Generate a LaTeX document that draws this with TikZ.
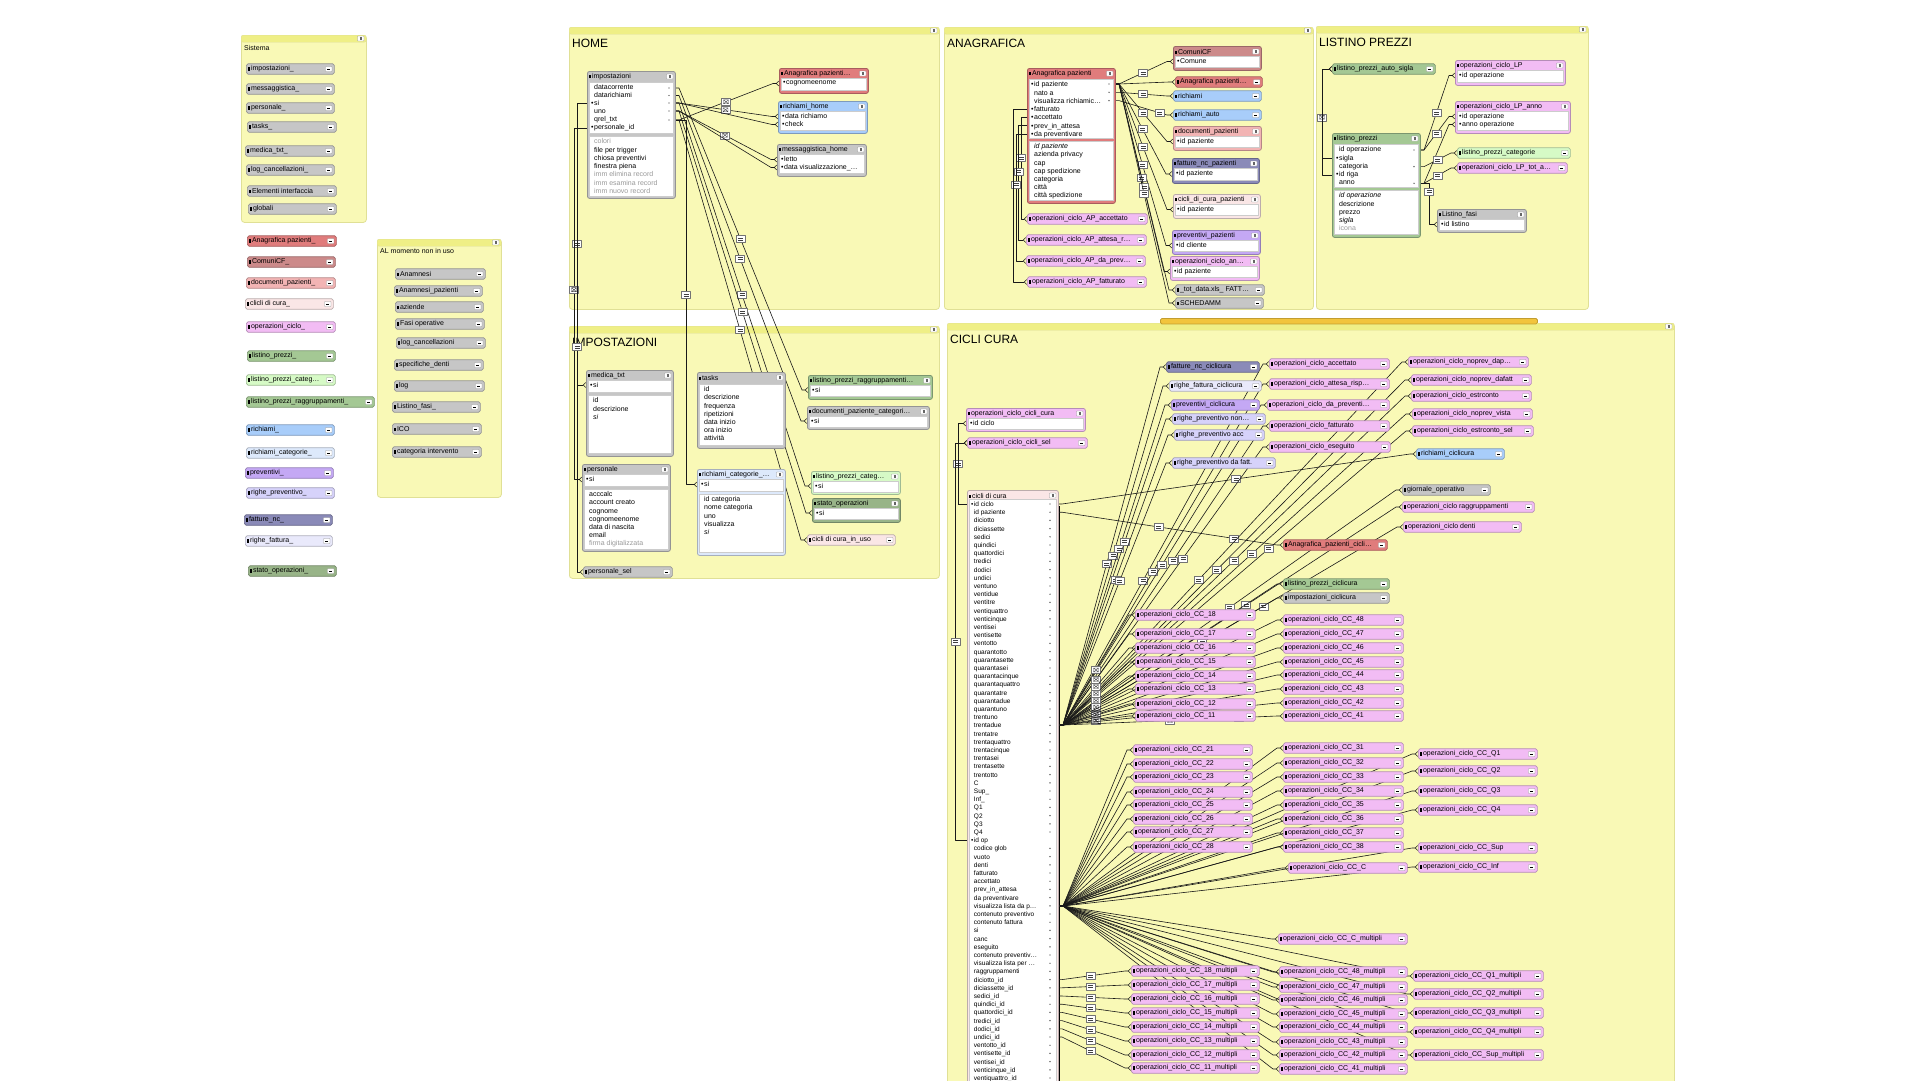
\documentclass[tikz,border=0pt]{standalone}
\usepackage{fontspec}
\setmainfont{Liberation Sans}
\usetikzlibrary{arrows.meta}
\pgfdeclarelayer{bg}
\pgfdeclarelayer{mid}
\pgfsetlayers{bg,mid,main}
\definecolor{panelY}{HTML}{F9F9B6}
\definecolor{panelBar}{HTML}{EFEF86}
\definecolor{panelBd}{HTML}{E0E096}
\definecolor{cGrey}{HTML}{C6C6C6}
\definecolor{cRed}{HTML}{E07C7C}
\definecolor{cRedD}{HTML}{CC8A8A}
\definecolor{cRedL}{HTML}{F2B4B4}
\definecolor{cPinkL}{HTML}{FAE6E6}
\definecolor{cOp}{HTML}{F2BCF4}
\definecolor{cGreen}{HTML}{A4C894}
\definecolor{cGreenL}{HTML}{D6FAC6}
\definecolor{cGreenD}{HTML}{98B488}
\definecolor{cBlue}{HTML}{A8CDFA}
\definecolor{cBlueL}{HTML}{DDE9FB}
\definecolor{cPurp}{HTML}{C4A8F4}
\definecolor{cLav}{HTML}{D6D2FA}
\definecolor{cLavL}{HTML}{E9E9FB}
\definecolor{cSlate}{HTML}{8A8AB8}
\definecolor{cOrange}{HTML}{F2C43C}
\newcommand\dkb{•\hspace{0.5pt}}
\newcommand\dnb{\hphantom{•}\hspace{0.5pt}}
\newcommand\dic{\rule[0.3pt]{1.5pt}{3.2pt}\hspace{1.3pt}}
\newcommand\dgr[1]{\textcolor{black!40}{#1}}
\newcommand\dbtnm{\rule{3.2pt}{1pt}}
\newcommand\dbtnsq{\textcolor{black!60}{\rule{2.6pt}{2.4pt}}}
\tikzset{
  x=1pt, y=-1pt,
  lbl/.style={inner sep=0pt, anchor=west, font=\fontsize{7}{8}\selectfont},
  cb/.style={rounded corners=1.8pt, line width=0.7pt, inner sep=0pt, minimum height=10.5pt, anchor=west},
  tb/.style={rounded corners=2.2pt, line width=0.8pt, inner sep=0pt, anchor=north west},
  btn/.style={draw=black!40, fill=white, line width=0.3pt, minimum width=6.5pt, minimum height=5pt, inner sep=0pt, rounded corners=0.6pt},
  fb/.style={fill=white, draw=black!20, line width=0.3pt, inner sep=0pt, anchor=north west},
  ft/.style={inner sep=0pt, anchor=north west, align=left},
  pnl/.style={fill=panelY, draw=panelBd, line width=0.8pt, rounded corners=3pt, inner sep=0pt, anchor=north west},
  pbar/.style={fill=panelBar, draw=panelBd, line width=0.4pt, inner sep=0pt, minimum height=7pt, anchor=north west, rounded corners=2pt},
  ptitle/.style={inner sep=0pt, anchor=west, font=\fontsize{12}{14}\selectfont},
  rdot/.style={circle, fill=black!80, inner sep=0pt, minimum size=1.4pt},
  conn/.style={draw=black!90, line width=0.6pt, line join=round, -{Straight Barb[reversed,length=2.5pt,width=5pt]}},
  fm/.style={to path={-- ([xshift=4pt]\tikztostart) -- ([xshift=-6pt]\tikztotarget) \tikztonodes -- (\tikztotarget)}},
  eqm/.style={draw=black!55, fill=white, line width=0.4pt, minimum width=9pt, minimum height=7pt, inner sep=0pt,
    path picture={\draw[-, black!75, line width=0.45pt]
      ([xshift=2pt,yshift=1pt]path picture bounding box.west) -- ([xshift=-2pt,yshift=1pt]path picture bounding box.east)
      ([xshift=2pt,yshift=-1pt]path picture bounding box.west) -- ([xshift=-2pt,yshift=-1pt]path picture bounding box.east);}},
  xm/.style={draw=black!55, fill=white, line width=0.4pt, minimum width=9pt, minimum height=7pt, inner sep=0pt,
    path picture={\draw[-, black!75, line width=0.4pt]
      ([shift={(2pt,-1.5pt)}]path picture bounding box.north west) rectangle ([shift={(-2pt,1.5pt)}]path picture bounding box.south east)
      ([shift={(2pt,-1.5pt)}]path picture bounding box.north west) -- ([shift={(-2pt,1.5pt)}]path picture bounding box.south east)
      ([shift={(2pt,1.5pt)}]path picture bounding box.south west) -- ([shift={(-2pt,-1.5pt)}]path picture bounding box.north east);}},
}
% collapsed box: name, x1, y, x2, colour, text
\newcommand\dCbox[6]{%
  \pgfmathsetmacro\dW{#4-#2}%
  \node[cb, fill=#5, draw=#5!75!black, minimum width=\dW pt] (#1) at (#2,#3) {};%
  \node[lbl] (#1-t) at ([xshift=2pt]#1.west) {\dic#6};%
  \node[btn] (#1-b) at ([xshift=-6pt]#1.east) {\dbtnm};%
}
% table frame: name, x1, y1, x2, y2, colour, title
\newcommand\dTbl[7]{%
  \pgfmathsetmacro\dW{#4-#2}\pgfmathsetmacro\dH{#5-#3}%
  \node[tb, fill=#6, draw=#6!75!black, minimum width=\dW pt, minimum height=\dH pt] (#1) at (#2,#3) {};%
  \node[lbl] (#1-t) at ([xshift=2pt,yshift=-5.5pt]#1.north west) {\dic#7};%
  \node[btn] (#1-b) at ([xshift=-6pt,yshift=-5.5pt]#1.north east) {\dbtnsq};%
}
% field area: name, x1, y1, x2, y2, font size, line skip, lines
\newcommand\dFld[8]{%
  \pgfmathsetmacro\dW{#4-#2}\pgfmathsetmacro\dH{#5-#3}%
  \node[fb, minimum width=\dW pt, minimum height=\dH pt] (#1) at (#2,#3) {};%
  \node[ft, font=\fontsize{#6}{#7}\selectfont] (#1-t) at ([xshift=2pt,yshift=-2.5pt]#1.north west) {#8};%
}
% panel: name, x1, y1, x2, y2, title, title offset
\newcommand\dPanel[7]{%
  \pgfmathsetmacro\dW{#4-#2}\pgfmathsetmacro\dH{#5-#3}%
  \node[pnl, minimum width=\dW pt, minimum height=\dH pt] (#1) at (#2,#3) {};%
  \node[pbar, minimum width=\dW pt] (#1-bar) at (#2,#3) {};%
  \node[btn] (#1-b) at ([xshift=-6pt,yshift=-3.5pt]#1.north east) {\dbtnsq};%
  \node[ptitle] (#1-t) at ([xshift=3pt,yshift=-#7pt]#1.north west) {#6};%
}
\begin{document}
\begin{tikzpicture}
\useasboundingbox (0,0) rectangle (1920,1080);
\begin{pgfonlayer}{bg}
\fill[white] (0,0) rectangle (1920,1080);
\dPanel{pS}{241}{35}{366}{222}{\fontsize{7}{8}\selectfont Sistema}{13}
\dPanel{pA}{377}{239}{501}{497}{\fontsize{7}{8}\selectfont AL momento non in uso}{12}
\dPanel{pH}{569}{27}{939}{309}{HOME}{16}
\dPanel{pI}{569}{326}{939}{578}{IMPOSTAZIONI}{16}
\dPanel{pN}{944}{27}{1313}{309}{ANAGRAFICA}{16}
\dPanel{pL}{1316}{26}{1588}{309}{LISTINO PREZZI}{16}
\dPanel{pC}{947}{323}{1674}{1095}{CICLI CURA}{16}
\node[tb, fill=cOrange, draw=cOrange!80!black, minimum width=377pt, minimum height=5.5pt, rounded corners=1.5pt] (obar) at (1160,318) {};
\end{pgfonlayer}

% ---------- left column ----------
\dCbox{s1}{246}{69}{334}{cGrey}{impostazioni\_}
\dCbox{s2}{246}{89}{334}{cGrey}{messaggistica\_}
\dCbox{s3}{246}{108}{334}{cGrey}{personale\_}
\dCbox{s4}{247}{127}{336}{cGrey}{tasks\_}
\dCbox{s5}{245}{151}{334}{cGrey}{medica\_txt\_}
\dCbox{s6}{246}{170}{334}{cGrey}{log\_cancellazioni\_}
\dCbox{s7}{247}{191}{336}{cGrey}{Elementi interfaccia}
\dCbox{s8}{248}{209}{336}{cGrey}{globali}
\dCbox{u1}{247}{241}{336}{cRed}{Anagrafica pazienti\_}
\dCbox{u2}{247}{262}{335}{cRedD}{ComuniCF\_}
\dCbox{u3}{246}{283}{335}{cRedL}{documenti\_pazienti\_}
\dCbox{u4}{245}{304}{333}{cPinkL}{clicli di cura\_}
\dCbox{u5}{246}{327}{335}{cOp}{operazioni\_ciclo\_}
\dCbox{u6}{247}{356}{335}{cGreen}{listino\_prezzi\_}
\dCbox{u7}{246}{380}{335}{cGreenL}{listino\_prezzi\_categ…}
\dCbox{u8}{246}{402}{374}{cGreen}{listino\_prezzi\_raggruppamenti\_}
\dCbox{u9}{246}{430}{334}{cBlue}{richiami\_}
\dCbox{u10}{246}{453}{334}{cBlueL}{richiami\_categorie\_}
\dCbox{u11}{245}{473}{333}{cPurp}{preventivi\_}
\dCbox{u12}{246}{493}{334}{cLav}{righe\_preventivo\_}
\dCbox{u13}{244}{520}{332}{cSlate}{fatture\_nc\_}
\dCbox{u14}{245}{541}{332}{cLavL}{righe\_fattura\_}
\dCbox{u15}{248}{571}{336}{cGreenD}{stato\_operazioni\_}
\dCbox{a1}{395}{274}{485}{cGrey}{Anamnesi}
\dCbox{a2}{394}{291}{482}{cGrey}{Anamnesi\_pazienti}
\dCbox{a3}{395}{307}{483}{cGrey}{aziende}
\dCbox{a4}{395}{324}{484}{cGrey}{Fasi operative}
\dCbox{a5}{396}{343}{485}{cGrey}{log\_cancellazioni}
\dCbox{a6}{394}{365}{483}{cGrey}{specifiche\_denti}
\dCbox{a7}{394}{386}{484}{cGrey}{log}
\dCbox{a8}{392}{407}{480}{cGrey}{Listino\_fasi\_}
\dCbox{a9}{392}{429}{481}{cGrey}{ICO}
\dCbox{a10}{392}{452}{481}{cGrey}{categoria intervento}

% ---------- HOME ----------
\dTbl{imp}{587}{71}{675}{198}{cGrey}{impostazioni}
\dFld{impA}{589}{82}{673}{133}{7}{8}{\dnb datacorrente\\\dnb datarichiami\\\dkb si\\\dnb uno\\\dnb qrel\_txt\\\dkb personale\_id}
\dFld{impB}{589}{136}{673}{196}{7}{8.3}{\dgr{\dnb colori}\\\dnb file per trigger\\\dnb chiosa preventivi\\\dnb finestra piena\\\dgr{\dnb imm elimina record}\\\dgr{\dnb imm esamina record}\\\dgr{\dnb imm nuovo record}}
\foreach \i/\yy in {1/88,2/95.5,3/103,4/111,5/120} {\node[rdot] (id\i) at (669,\yy) {};}
\dTbl{anh}{779}{68}{868}{93}{cRed}{Anagrafica pazienti…}
\dFld{anhF}{781}{78}{866}{90}{7}{8}{\dkb cognomeenome}
\dTbl{rh}{778}{101}{867}{133}{cBlue}{richiami\_home}
\dFld{rhF}{780}{111}{865}{130}{7}{8}{\dkb data richiamo\\\dkb check}
\dTbl{mh}{777}{144}{866}{176}{cGrey}{messaggistica\_home}
\dFld{mhF}{779}{154}{864}{173}{7}{8}{\dkb letto\\\dkb data visualizzazione\_…}

% ---------- IMPOSTAZIONI ----------
\dTbl{med}{586}{370}{673}{456}{cGrey}{medica\_txt}
\dFld{medA}{588}{380}{671}{392}{7}{8}{\dkb si}
\dFld{medB}{588}{395}{671}{453}{7}{8.3}{\dnb id\\\dnb descrizione\\\dnb \textit{si}}
\dTbl{per}{582}{464}{670}{551}{cGrey}{personale}
\dFld{perA}{584}{474}{668}{486}{7}{8}{\dkb si}
\dFld{perB}{584}{489}{668}{549}{7}{8.2}{\dnb acccalc\\\dnb account creato\\\dnb cognome\\\dnb cognomeenome\\\dnb data di nascita\\\dnb email\\\dgr{\dnb firma digitalizzata}}
\dCbox{ps}{583}{572}{672}{cGrey}{personale\_sel}
\dTbl{tsk}{697}{372}{785}{448}{cGrey}{tasks}
\dFld{tskF}{699}{384}{783}{445}{7}{8.2}{\dnb id\\\dnb descrizione\\\dnb frequenza\\\dnb ripetizioni\\\dnb data inizio\\\dnb ora inizio\\\dnb attività}
\dTbl{rc}{697}{469}{785}{555}{cBlueL}{richiami\_categorie\_…}
\dFld{rcA}{699}{479}{783}{491}{7}{8}{\dkb si}
\dFld{rcB}{699}{494}{783}{552}{7}{8.2}{\dnb id categoria\\\dnb nome categoria\\\dnb uno\\\dnb visualizza\\\dnb \textit{si}}
\dTbl{lpr}{808}{375}{932}{399}{cGreen}{listino\_prezzi\_raggruppamenti…}
\dFld{lprF}{810}{385}{930}{396}{7}{8}{\dkb si}
\dTbl{dpc}{807}{406}{929}{429}{cGrey}{documenti\_paziente\_categori…}
\dFld{dpcF}{809}{416}{927}{427}{7}{8}{\dkb si}
\dTbl{lpc}{811}{471}{900}{494}{cGreenL}{listino\_prezzi\_categ…}
\dFld{lpcF}{813}{481}{898}{492}{7}{8}{\dkb si}
\dTbl{so}{812}{498}{900}{522}{cGreenD}{stato\_operazioni}
\dFld{soF}{814}{508}{898}{519}{7}{8}{\dkb si}
\dCbox{ciu}{807}{540}{895}{cPinkL}{cicli di cura\_in\_uso}

% ---------- ANAGRAFICA ----------
\dTbl{ap}{1027}{68}{1115}{203}{cRed}{Anagrafica pazienti}
\dFld{apA}{1029}{79}{1113}{138}{7}{8.3}{\dkb id paziente\\\dnb nato a\\\dnb visualizza richiamic…\\\dkb fatturato\\\dkb accettato\\\dkb prev\_in\_attesa\\\dkb da preventivare}
\dFld{apB}{1029}{141}{1113}{200}{7}{8.2}{\dnb\textit{id paziente}\\\dnb azienda privacy\\\dnb cap\\\dnb cap spedizione\\\dnb categoria\\\dnb città\\\dnb città spedizione}
\foreach \i/\yy in {1/84,2/92.3,3/100.6} {\node[rdot] (ad\i) at (1109,\yy) {};}
\dCbox{ap1}{1027}{219}{1147}{cOp}{operazioni\_ciclo\_AP\_accettato}
\dCbox{ap2}{1026}{240}{1146}{cOp}{operazioni\_ciclo\_AP\_attesa\_r…}
\dCbox{ap3}{1026}{261}{1145}{cOp}{operazioni\_ciclo\_AP\_da\_prev…}
\dCbox{ap4}{1027}{282}{1146}{cOp}{operazioni\_ciclo\_AP\_fatturato}
\dTbl{cf}{1173}{46}{1261}{70}{cRedD}{ComuniCF}
\dFld{cfF}{1175}{56}{1259}{67}{7}{8}{\dkb Comune}
\dCbox{anp}{1175}{82}{1262}{cRed}{Anagrafica pazienti…}
\dCbox{ric}{1173}{96}{1261}{cBlue}{richiami}
\dCbox{ra}{1173}{115}{1261}{cBlue}{richiami\_auto}
\dTbl{dp}{1173}{126}{1261}{150}{cRedL}{documenti\_pazienti}
\dFld{dpF}{1175}{136}{1259}{147}{7}{8}{\dkb id paziente}
\dTbl{fn}{1172}{158}{1259}{183}{cSlate}{fatture\_nc\_pazienti}
\dFld{fnF}{1174}{168}{1257}{180}{7}{8}{\dkb id paziente}
\dTbl{cdcp}{1173}{194}{1260}{218}{cPinkL}{cicli\_di\_cura\_pazienti}
\dFld{cdcpF}{1175}{204}{1258}{215}{7}{8}{\dkb id paziente}
\dTbl{pp}{1172}{230}{1260}{254}{cPurp}{preventivi\_pazienti}
\dFld{ppF}{1174}{240}{1258}{251}{7}{8}{\dkb id cliente}
\dTbl{oa}{1170}{256}{1259}{280}{cOp}{operazioni\_ciclo\_an…}
\dFld{oaF}{1172}{266}{1257}{277}{7}{8}{\dkb id paziente}
\dCbox{tot}{1175}{290}{1264}{cGrey}{\_tot\_data.xls\_ FATT…}
\dCbox{sch}{1175}{303}{1263}{cGrey}{SCHEDAMM}

% ---------- LISTINO PREZZI ----------
\dCbox{las}{1332}{69}{1435}{cGreen}{listino\_prezzi\_auto\_sigla}
\dTbl{lp}{1332}{133}{1420}{237}{cGreen}{listino\_prezzi}
\dFld{lpA}{1334}{144}{1418}{187}{7}{8.3}{\dnb id operazione\\\dkb sigla\\\dnb categoria\\\dkb id riga\\\dnb anno}
\dFld{lpB}{1334}{190}{1418}{234}{7}{8.3}{\dnb\textit{id operazione}\\\dnb descrizione\\\dnb prezzo\\\dnb\textit{sigla}\\\dgr{\dnb icona}}
\foreach \i/\yy in {1/150,2/166.6,3/183.3} {\node[rdot] (ld\i) at (1414,\yy) {};}
\dTbl{lc1}{1455}{60}{1565}{85}{cOp}{operazioni\_ciclo\_LP}
\dFld{lc1F}{1457}{70}{1563}{82}{7}{8}{\dkb id operazione}
\dTbl{la}{1455}{101}{1570}{133}{cOp}{operazioni\_ciclo\_LP\_anno}
\dFld{laF}{1457}{111}{1568}{130}{7}{8}{\dkb id operazione\\\dkb anno operazione}
\dCbox{lcat}{1457}{153}{1570}{cGreenL}{listino\_prezzi\_categorie}
\dCbox{ltot}{1457}{168}{1567}{cOp}{operazioni\_ciclo\_LP\_tot\_a…}
\dTbl{lf}{1437}{209}{1526}{232}{cGrey}{Listino\_fasi}
\dFld{lfF}{1439}{219}{1524}{230}{7}{8}{\dkb id listino}

% ---------- CICLI CURA ----------
\dTbl{occ}{966}{408}{1085}{431}{cOp}{operazioni\_ciclo\_cicli\_cura}
\dFld{occF}{968}{418}{1083}{429}{7}{8}{\dkb id ciclo}
\dCbox{ocs}{967}{443}{1087}{cOp}{operazioni\_ciclo\_cicli\_sel}
\dTbl{cdc}{967}{490}{1058}{1100}{cPinkL}{cicli di cura}
\dFld{cdcF}{969}{499}{1056}{1100}{6.5}{8.2}{\dkb id ciclo\\\dnb id paziente\\\dnb diciotto\\\dnb diciassette\\\dnb sedici\\\dnb quindici\\\dnb quattordici\\\dnb tredici\\\dnb dodici\\\dnb undici\\\dnb ventuno\\\dnb ventidue\\\dnb ventitre\\\dnb ventiquattro\\\dnb venticinque\\\dnb ventisei\\\dnb ventisette\\\dnb ventotto\\\dnb quarantotto\\\dnb quarantasette\\\dnb quarantasei\\\dnb quarantacinque\\\dnb quarantaquattro\\\dnb quarantatre\\\dnb quarantadue\\\dnb quarantuno\\\dnb trentuno\\\dnb trentadue\\\dnb trentatre\\\dnb trentaquattro\\\dnb trentacinque\\\dnb trentasei\\\dnb trentasette\\\dnb trentotto\\\dnb C\\\dnb Sup\_\\\dnb Inf\_\\\dnb Q1\\\dnb Q2\\\dnb Q3\\\dnb Q4\\\dkb id op\\\dnb codice glob\\\dnb vuoto\\\dnb denti\\\dnb fatturato\\\dnb accettato\\\dnb prev\_in\_attesa\\\dnb da preventivare\\\dnb visualizza lista da p…\\\dnb contenuto preventivo\\\dnb contenuto fattura\\\dnb si\\\dnb canc\\\dnb eseguito\\\dnb contenuto preventiv…\\\dnb visualizza lista per …\\\dnb raggruppamenti\\\dnb diciotto\_id\\\dnb diciassette\_id\\\dnb sedici\_id\\\dnb quindici\_id\\\dnb quattordici\_id\\\dnb tredici\_id\\\dnb dodici\_id\\\dnb undici\_id\\\dnb ventotto\_id\\\dnb ventisette\_id\\\dnb ventisei\_id\\\dnb venticinque\_id\\\dnb ventiquattro\_id}
\foreach \i in {0,...,40,42,43,...,70} {\node[rdot] (dd\i) at (1050,{504+8.2*\i}) {};}

\dCbox{fnc}{1166}{367}{1259}{cSlate}{fatture\_nc\_ciclicura}
\dCbox{rfc}{1169}{386}{1261}{cLavL}{righe\_fattura\_ciclicura}
\dCbox{pvc}{1171}{405}{1259}{cPurp}{preventivi\_ciclicura}
\dCbox{rpn}{1172}{419}{1265}{cLav}{righe\_preventivo non…}
\dCbox{rpa}{1174}{435}{1264}{cLav}{righe\_preventivo acc}
\dCbox{rpd}{1172}{463}{1275}{cLav}{righe\_preventivo da fatt.}
\dCbox{oac}{1269}{364}{1389}{cOp}{operazioni\_ciclo\_accettato}
\dCbox{oat}{1269}{384}{1389}{cOp}{operazioni\_ciclo\_attesa\_risp…}
\dCbox{odp}{1267}{405}{1389}{cOp}{operazioni\_ciclo\_da\_preventi…}
\dCbox{ofa}{1269}{426}{1389}{cOp}{operazioni\_ciclo\_fatturato}
\dCbox{oes}{1269}{447}{1390}{cOp}{operazioni\_ciclo\_eseguito}
\dCbox{ndp}{1408}{362}{1528}{cOp}{operazioni\_ciclo\_noprev\_dap…}
\dCbox{ndf}{1411}{380}{1531}{cOp}{operazioni\_ciclo\_noprev\_dafatt}
\dCbox{oec}{1411}{396}{1531}{cOp}{operazioni\_ciclo\_estrconto}
\dCbox{nvi}{1412}{414}{1532}{cOp}{operazioni\_ciclo\_noprev\_vista}
\dCbox{ecs}{1412}{431}{1533}{cOp}{operazioni\_ciclo\_estrconto\_sel}
\dCbox{ricc}{1416}{454}{1504}{cBlue}{richiami\_ciclicura}
\dCbox{gio}{1402}{490}{1490}{cGrey}{giornale\_operativo}
\dCbox{rag}{1402}{507}{1534}{cOp}{operazioni\_ciclo raggruppamenti}
\dCbox{den}{1403}{527}{1521}{cOp}{operazioni\_ciclo denti}
\dCbox{apc}{1283}{545}{1387}{cRed}{Anagrafica\_pazienti\_cicli…}
\dCbox{lpcc}{1283}{584}{1389}{cGreen}{listino\_prezzi\_ciclicura}
\dCbox{icc}{1283}{598}{1389}{cGrey}{impostazioni\_ciclicura}

\foreach \n/\y in {18/615,17/634,16/648,15/662,14/676,13/689,12/704,11/716}
  {\dCbox{cc\n}{1135}{\y}{1255}{cOp}{operazioni\_ciclo\_CC\_\n}}
\foreach \n/\y in {48/620,47/634,46/648,45/662,44/675,43/689,42/703,41/716}
  {\dCbox{cc\n}{1283}{\y}{1403}{cOp}{operazioni\_ciclo\_CC\_\n}}
\foreach \n/\y in {21/750,22/764,23/777,24/792,25/805,26/819,27/832,28/847}
  {\dCbox{cc\n}{1133}{\y}{1252}{cOp}{operazioni\_ciclo\_CC\_\n}}
\foreach \n/\y in {31/748,32/763,33/777,34/791,35/805,36/819,37/833,38/847}
  {\dCbox{cc\n}{1283}{\y}{1403}{cOp}{operazioni\_ciclo\_CC\_\n}}
\dCbox{ccC}{1288}{868}{1407}{cOp}{operazioni\_ciclo\_CC\_C}
\foreach \n/\y in {Q1/754,Q2/771,Q3/791,Q4/810,Sup/848,Inf/867}
  {\dCbox{cc\n}{1418}{\y}{1537}{cOp}{operazioni\_ciclo\_CC\_\n}}
\dCbox{muC}{1278}{939}{1407}{cOp}{operazioni\_ciclo\_CC\_C\_multipli}
\foreach \n/\y in {18/971,17/985,16/999,15/1013,14/1027,13/1041,12/1055,11/1068}
  {\dCbox{mu\n}{1131}{\y}{1259}{cOp}{operazioni\_ciclo\_CC\_\n\_multipli}}
\foreach \n/\y in {48/972,47/987,46/1000,45/1014,44/1027,43/1042,42/1055,41/1069}
  {\dCbox{mu\n}{1279}{\y}{1407}{cOp}{operazioni\_ciclo\_CC\_\n\_multipli}}
\foreach \n/\y in {Q1/976,Q2/994,Q3/1013,Q4/1032,Sup/1055}
  {\dCbox{mu\n}{1413}{\y}{1543}{cOp}{operazioni\_ciclo\_CC\_\n\_multipli}}

% ---------- anchor coordinates ----------
\coordinate (impRdc) at (675,88);
\coordinate (impRdr) at (675,95.5);
\coordinate (impRsi) at (675,103);
\coordinate (impRuno) at (675,111);
\coordinate (impRqr) at (675,120);
\coordinate (impLsi) at (587,103);
\coordinate (impLpid) at (587,128);
\coordinate (anhC) at (779,83.5);
\coordinate (rhD) at (778,116.5);
\coordinate (rhC) at (778,124.5);
\coordinate (mhL) at (777,159.5);
\coordinate (mhD) at (777,167.5);
\coordinate (medSi) at (586,385);
\coordinate (perSi) at (582,479.5);
\coordinate (rcSi) at (697,484.5);
\coordinate (lprSi) at (808,390);
\coordinate (dpcSi) at (807,421);
\coordinate (lpcSi) at (811,486);
\coordinate (soSi) at (812,513);
\coordinate (busA) at (577,0);
\coordinate (busB) at (574,0);
\coordinate (busC) at (686,0);
\coordinate (apR0) at (1115,84);
\coordinate (apR1) at (1115,92.3);
\coordinate (apR2) at (1115,100.6);
\coordinate (apL3) at (1027,108.9);
\coordinate (apL4) at (1027,117.2);
\coordinate (apL5) at (1027,125.5);
\coordinate (apL6) at (1027,133.8);
\coordinate (cfC) at (1173,61.5);
\coordinate (dpI) at (1173,141.5);
\coordinate (fnI) at (1172,174);
\coordinate (cdcI) at (1173,209.5);
\coordinate (ppI) at (1172,245.5);
\coordinate (oaI) at (1170,271.5);
\coordinate (busAP1) at (1021,0);
\coordinate (busAP2) at (1018.5,0);
\coordinate (busAP3) at (1016,0);
\coordinate (busAP4) at (1013.5,0);
\coordinate (lpLsig) at (1332,158.3);
\coordinate (lpLrig) at (1332,175);
\coordinate (lpRid) at (1420,150);
\coordinate (lpRcat) at (1420,166.6);
\coordinate (lpRanno) at (1420,183.3);
\coordinate (lc1I) at (1455,75.5);
\coordinate (laI) at (1455,116.5);
\coordinate (laA) at (1455,124.5);
\coordinate (lfI) at (1437,224.5);
\coordinate (busL) at (1322,0);
\coordinate (busF) at (1429,0);
\coordinate (cL0) at (967,504);
\coordinate (cL41) at (967,840.2);
\coordinate (occI) at (966,423.5);
\coordinate (busCC) at (958,0);
\coordinate (busCC2) at (955.5,0);
\foreach \i in {0,...,100} {\coordinate (r\i) at (1058,{504+8.2*\i});}
\coordinate (hubA) at (1059,725);
\coordinate (hubB) at (1059,906);
\coordinate (spT) at (1059,506);
\coordinate (spB) at (1059,1085);

% ---------- connectors ----------
\begin{pgfonlayer}{mid}
% HOME
\draw[conn] (impRqr) to[fm] node[xm] (k1) {} (anhC);
\draw[conn] (impRsi) to[fm] node[xm] (k2) {} (rhD);
\draw[conn] (impRsi) to[fm] (rhC);
\draw[conn] (impRuno) to[fm] node[xm] (k3) {} (mhL);
\draw[conn] (impRuno) to[fm] (mhD);
\draw[conn] (impRdc) to[fm] node[eqm] (k4) {} (lprSi);
\draw[conn] (impRdr) to[fm] node[eqm] (k5) {} (dpcSi);
\draw[conn] (impRsi) to[fm] node[eqm] (k6) {} (lpcSi);
\draw[conn] (impRuno) to[fm] node[eqm] (k7) {} (soSi);
\draw[conn] (impRqr) to[fm] node[eqm] (k8) {} (ciu.west);
\draw[conn] (impLsi) -- (impLsi -| busA) |- node[eqm,pos=0.25] (k9) {} (medSi);
\draw[conn] (impLpid) -- (impLpid -| busB) |- node[xm,pos=0.23] (k10) {} (perSi);
\draw[conn] (impLsi) -- (impLsi -| busA) |- node[eqm,pos=0.26] (k11) {} (ps.west);
\draw[conn] (impRqr) -- (impRqr -| busC) |- node[eqm,pos=0.24] (k12) {} (rcSi);
% ANAGRAFICA
\draw[conn] (apR0) to[fm] node[eqm] (k13) {} (cfC);
\draw[conn] (apR0) to[fm] (anp.west);
\draw[conn] (apR1) to[fm] node[eqm] (k14) {} (ric.west);
\draw[conn] (apR2) to[fm] node[eqm,pos=0.85] (k15) {} (ra.west);
\draw[conn] (apR0) to[fm] node[eqm] (k16) {} (dpI);
\draw[conn] (apR0) to[fm] node[eqm] (k17) {} (fnI);
\draw[conn] (apR0) to[fm] node[eqm] (k18) {} (cdcI);
\draw[conn] (apR0) to[fm] node[eqm] (k19) {} (ppI);
\draw[conn] (apR0) to[fm] node[eqm] (k20) {} (oaI);
\draw[conn] (apR0) to[fm] node[eqm] (k21) {} (tot.west);
\draw[conn] (apR0) to[fm] node[eqm] (k22) {} (sch.west);
\draw[conn] (apL4) -- (apL4 -| busAP1) |- node[eqm,pos=0.2] (k23) {} (ap1.west);
\draw[conn] (apL5) -- (apL5 -| busAP2) |- node[eqm,pos=0.2] (k24) {} (ap2.west);
\draw[conn] (apL6) -- (apL6 -| busAP3) |- node[eqm,pos=0.2] (k25) {} (ap3.west);
\draw[conn] (apL3) -- (apL3 -| busAP4) |- (ap4.west);
% LISTINO PREZZI
\draw[conn] (lpLsig) -- (lpLsig -| busL) |- node[xm,pos=0.23] (k26) {} (las.west);
\draw[conn] (lpLrig) -- (lpLrig -| busL) |- (las.west);
\draw[conn] (lpRid) to[fm] node[eqm] (k27) {} (lc1I);
\draw[conn] (lpRid) to[fm] node[eqm] (k28) {} (laI);
\draw[conn] (lpRanno) to[fm] (laA);
\draw[conn] (lpRcat) to[fm] node[eqm] (k29) {} (lcat.west);
\draw[conn] (lpRanno) to[fm] node[eqm] (k30) {} (ltot.west);
\draw[conn] (lpRanno) -- (lpRanno -| busF) |- node[eqm,pos=0.1] (k31) {} (lfI);
% CICLI CURA
\draw[conn] (cL0) -- (cL0 -| busCC) |- node[eqm,pos=0.25] (k32) {} (occI);
\draw[conn] (cL0) -- (cL0 -| busCC) |- (ocs.west);
\draw[conn] (cL41) -- (cL41 -| busCC2) |- node[eqm,pos=0.25] (k33) {} (ocs.west);
\draw[line width=1.8pt] (spT) -- (spB);
\draw[conn] (r0) to[fm] node[eqm] (k34) {} (ricc.west);
\draw[conn] (r1) to[fm] node[eqm,pos=0.45] (k35) {} node[eqm,pos=0.8] (k36) {} (apc.west);
\foreach \n/\p in {fnc/0.45,rfc/0.5,pvc/0.55,rpn/0.6,rpa/0.5,rpd/0.55,oac/0.4,oat/0.45,odp/0.5,ofa/0.55,oes/0.6,ndp/0.4,ndf/0.45,oec/0.5,nvi/0.55,ecs/0.6,gio/0.5,rag/0.55,den/0.6,lpcc/0.55,icc/0.65}
  {\draw[conn] (hubA) to[fm] node[eqm,pos=\p] (q\n) {} (\n.west);}
\foreach \n in {18,17,16,15,14,13,12,11}
  {\draw[conn] (hubA) to[fm] node[xm,pos=0.5] (x\n) {} (cc\n.west);}
\foreach \n in {48,47,46,45,44,43,42}
  {\draw[conn] (hubA) to[fm] (cc\n.west);}
\draw[conn] (hubA) to[fm] node[xm,pos=0.5] (xa) {} node[xm,pos=0.82] (xb) {} (cc41.west);
\foreach \n in {21,22,23,24,25,26,27,28,31,32,33,34,35,36,37,38,C,Q1,Q2,Q3,Q4,Sup,Inf}
  {\draw[conn] (hubB) to[fm] (cc\n.west);}
\foreach \n/\r in {18/58,17/59,16/60,15/61,14/62,13/63,12/64,11/65}
  {\draw[conn] (r\r) to[fm] node[eqm,pos=0.45] (e\n) {} (mu\n.west);}
\foreach \n in {48,47,46,45,44,43,42,41,C,Q1,Q2,Q3,Q4,Sup}
  {\draw[conn] (hubB) to[fm] (mu\n.west);}
\end{pgfonlayer}
\end{tikzpicture}
\end{document}
